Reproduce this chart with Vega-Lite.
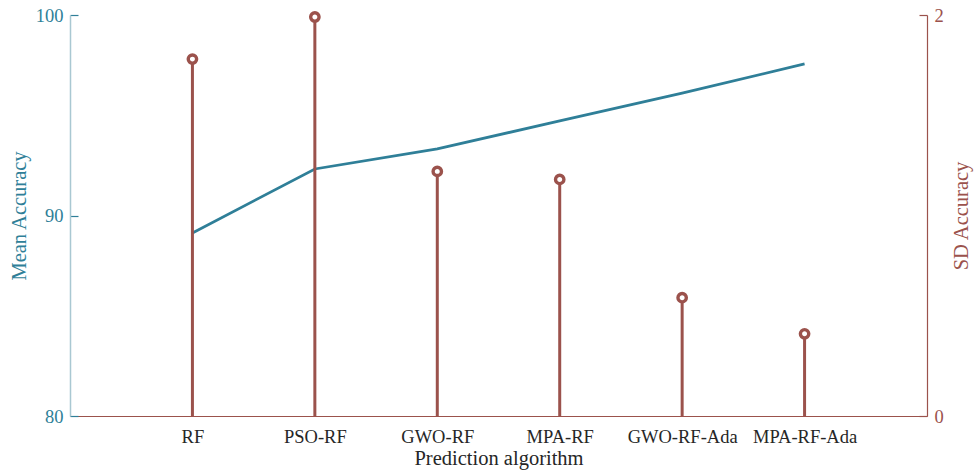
{
  "$schema": "https://vega.github.io/schema/vega-lite/v6.json",
  "width": 857,
  "height": 401,
  "autosize": "none",
  "padding": {"left": 70, "top": 15, "right": 47, "bottom": 54},
  "background": "white",
  "config": {
    "view": {"stroke": null},
    "font": "Liberation Serif",
    "axis": {"grid": false, "labelFont": "Liberation Serif", "titleFont": "Liberation Serif", "titleFontWeight": "normal"}
  },
  "data": {
    "values": [
      {"alg": "RF", "mean": 89.13, "sd": 1.78},
      {"alg": "PSO-RF", "mean": 92.32, "sd": 1.99},
      {"alg": "GWO-RF", "mean": 93.32, "sd": 1.22},
      {"alg": "MPA-RF", "mean": 94.72, "sd": 1.18},
      {"alg": "GWO-RF-Ada", "mean": 96.1, "sd": 0.59},
      {"alg": "MPA-RF-Ada", "mean": 97.56, "sd": 0.41}
    ]
  },
  "layer": [
    {
      "mark": {"type": "line", "color": "#2f7f98", "strokeWidth": 2.8},
      "encoding": {
        "x": {
          "field": "alg", "type": "ordinal", "sort": null,
          "scale": {"type": "point", "padding": 1},
          "axis": {
            "orient": "bottom", "title": "Prediction algorithm", "labelAngle": 0,
            "labelFontSize": 18.5, "labelColor": "#262626", "titleFontSize": 20.5, "titleColor": "#262626",
            "domainColor": "#9b524c", "domainWidth": 1.2, "ticks": false, "labelPadding": 11, "titlePadding": 3
          }
        },
        "y": {
          "field": "mean", "type": "quantitative",
          "scale": {"domain": [80, 100], "nice": false, "zero": false},
          "axis": {
            "orient": "left", "title": "Mean Accuracy", "values": [80, 90, 100],
            "labelFontSize": 18.5, "labelColor": "#2f7f98", "titleFontSize": 20.5, "titleColor": "#2f7f98",
            "domainColor": "#a9c8d2", "domainWidth": 1.5, "tickColor": "#2f7f98", "tickSize": -8, "tickWidth": 1.2,
            "labelPadding": 15, "titlePadding": 6
          }
        }
      }
    },
    {
      "layer": [
        {
          "mark": {"type": "rule", "color": "#9b524c", "strokeWidth": 3},
          "encoding": {
            "x": {
              "field": "alg", "type": "ordinal", "sort": null,
              "axis": {
                "orient": "top", "title": null, "labels": false, "domainColor": "#222222", "domainWidth": 1.2,
                "tickColor": "#222222", "tickSize": -8, "tickWidth": 1.2
              }
            },
            "y": {
              "field": "sd", "type": "quantitative",
              "scale": {"domain": [0, 2], "nice": false},
              "axis": {
                "orient": "right", "title": "SD Accuracy", "values": [0, 1, 2], "format": "d",
                "labelFontSize": 18.5, "labelColor": "#9b524c", "titleFontSize": 20.5, "titleColor": "#9b524c",
                "titleAngle": 270, "titleBaseline": "bottom",
                "domainColor": "#9b524c", "domainWidth": 1.2, "tickColor": "#9b524c", "tickSize": -8, "tickWidth": 1.2,
                "labelPadding": 15, "titlePadding": 28
              }
            },
            "y2": {"datum": 0}
          }
        },
        {
          "mark": {"type": "point", "shape": "circle", "filled": false, "fill": "white", "color": "#9b524c", "strokeWidth": 3.4, "size": 70, "opacity": 1},
          "encoding": {
            "x": {"field": "alg", "type": "ordinal", "sort": null, "axis": null},
            "y": {"field": "sd", "type": "quantitative"}
          }
        }
      ]
    }
  ],
  "resolve": {"scale": {"y": "independent"}, "axis": {"x": "independent"}}
}
